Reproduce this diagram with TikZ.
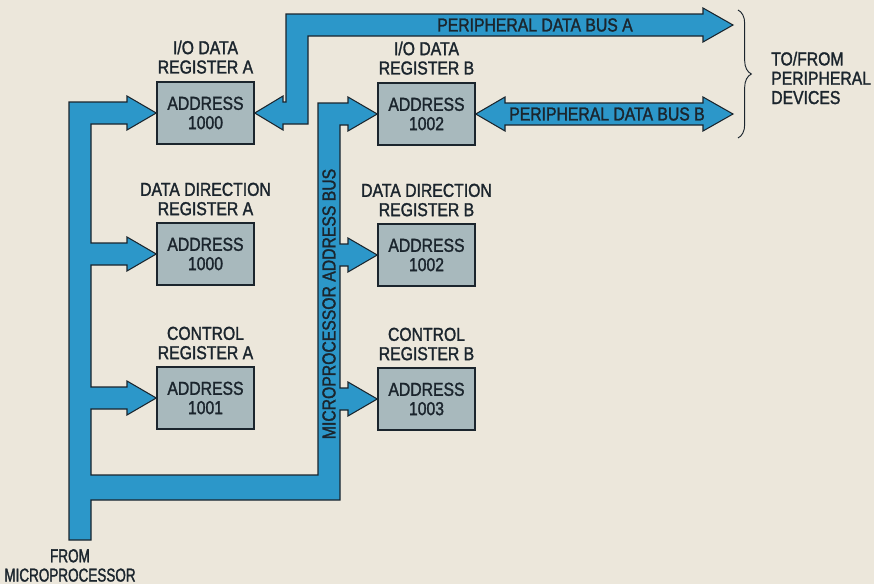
\documentclass[tikz,border=0pt]{standalone}
\usepackage{fontspec}
\setmainfont[FakeStretch=0.84,FakeBold=1.5]{Liberation Sans}
\newfontfamily\narrowface[FakeStretch=0.72,FakeBold=1.5]{Liberation Sans}
\usepackage{tikz}
\usetikzlibrary{positioning,decorations.pathreplacing}

\definecolor{paperCream}{HTML}{ECE7DB}
\definecolor{busBlue}{HTML}{2C97C9}
\definecolor{regGray}{HTML}{A8B9BD}
\definecolor{inkDark}{HTML}{1B252D}

\tikzset{
  regbox/.style={draw=inkDark,line width=1.3pt,fill=regGray,minimum width=2.91cm,
    minimum height=1.86cm,inner sep=0pt,align=center,text=inkDark},
  reglabel/.style={align=center,inner sep=0pt,text=inkDark},
  busshape/.style={fill=busBlue,draw=inkDark,line width=0.9pt,line join=miter},
  buslabel/.style={inner sep=0pt,text=inkDark}
}

\begin{document}
\begin{tikzpicture}[x=0.03cm,y=-0.03cm,font=\fontsize{16}{16.5}\selectfont]
\useasboundingbox (0,0) rectangle (874,584);
\fill[paperCream] (0,0) rectangle (874,584);
% registers
\node[regbox] (ioA) at (205.5,113) {ADDRESS\\1000};
\node[regbox] (ddrA) at (205.5,254) {ADDRESS\\1000};
\node[regbox] (ctlA) at (205.5,398) {ADDRESS\\1001};
\node[regbox] (ioB) at (426.5,114) {ADDRESS\\1002};
\node[regbox] (ddrB) at (426.5,255) {ADDRESS\\1002};
\node[regbox] (ctlB) at (426.5,399) {ADDRESS\\1003};
\node[reglabel,above=0.22cm of ioA] (lblIoA) {I/O DATA\\REGISTER A};
\node[reglabel,above=0.2cm of ddrA] (lblDdrA) {DATA DIRECTION\\REGISTER A};
\node[reglabel,above=0.2cm of ctlA] (lblCtlA) {CONTROL\\REGISTER A};
\node[reglabel,above=0.22cm of ioB] (lblIoB) {I/O DATA\\REGISTER B};
\node[reglabel,above=0.2cm of ddrB] (lblDdrB) {DATA DIRECTION\\REGISTER B};
\node[reglabel,above=0.2cm of ctlB] (lblCtlB) {CONTROL\\REGISTER B};
% microprocessor address bus
\draw[busshape] (69,540) -- (69,102) -- (127,102) -- (127,96) -- (ioA.west)
  -- (127,130) -- (127,124) -- (91,124) -- (91,243) -- (127,243) -- (127,237)
  -- (ddrA.west) -- (127,271) -- (127,265) -- (91,265) -- (91,387) -- (127,387)
  -- (127,381) -- (ctlA.west) -- (127,415) -- (127,409) -- (91,409) -- (91,475)
  -- (318,475) -- (318,103) -- (348,103) -- (348,97) -- (ioB.west) -- (348,131)
  -- (348,125) -- (340,125) -- (340,244) -- (348,244) -- (348,238) -- (ddrB.west)
  -- (348,272) -- (348,266) -- (340,266) -- (340,388) -- (348,388) -- (348,382)
  -- (ctlB.west) -- (348,416) -- (348,410) -- (340,410) -- (340,500) -- (91,500)
  -- (91,540) -- cycle;
\node[buslabel,rotate=90] (lblAddrBus) at (329,304) {MICROPROCESSOR ADDRESS BUS};
% peripheral data buses
\draw[busshape] (ioA.east) -- (283,96) -- (283,102) -- (286,102) -- (286,14)
  -- (703,14) -- (703,8) -- (733,25) -- (703,42) -- (703,36) -- (308,36)
  -- (308,124) -- (283,124) -- (283,130) -- cycle;
\node[buslabel] (lblBusA) at (535,25) {PERIPHERAL DATA BUS A};
\draw[busshape] (ioB.east) -- (505,97) -- (505,103) -- (703,103) -- (703,97)
  -- (733,114) -- (703,131) -- (703,125) -- (505,125) -- (505,131) -- cycle;
\node[buslabel] (lblBusB) at (607,114) {PERIPHERAL DATA BUS B};
% peripheral side
\draw[inkDark,line width=0.8pt,decorate,decoration={brace,amplitude=0.4cm}]
  (738,10) -- (738,138);
\node[reglabel,align=left,anchor=west] (lblDevices) at (771,78)
  {TO/FROM\\PERIPHERAL\\DEVICES};
\node[reglabel,anchor=south,font=\narrowface\fontsize{16}{16.5}\selectfont]
  (lblFrom) at (70,582) {FROM\\MICROPROCESSOR};
\end{tikzpicture}
\end{document}
